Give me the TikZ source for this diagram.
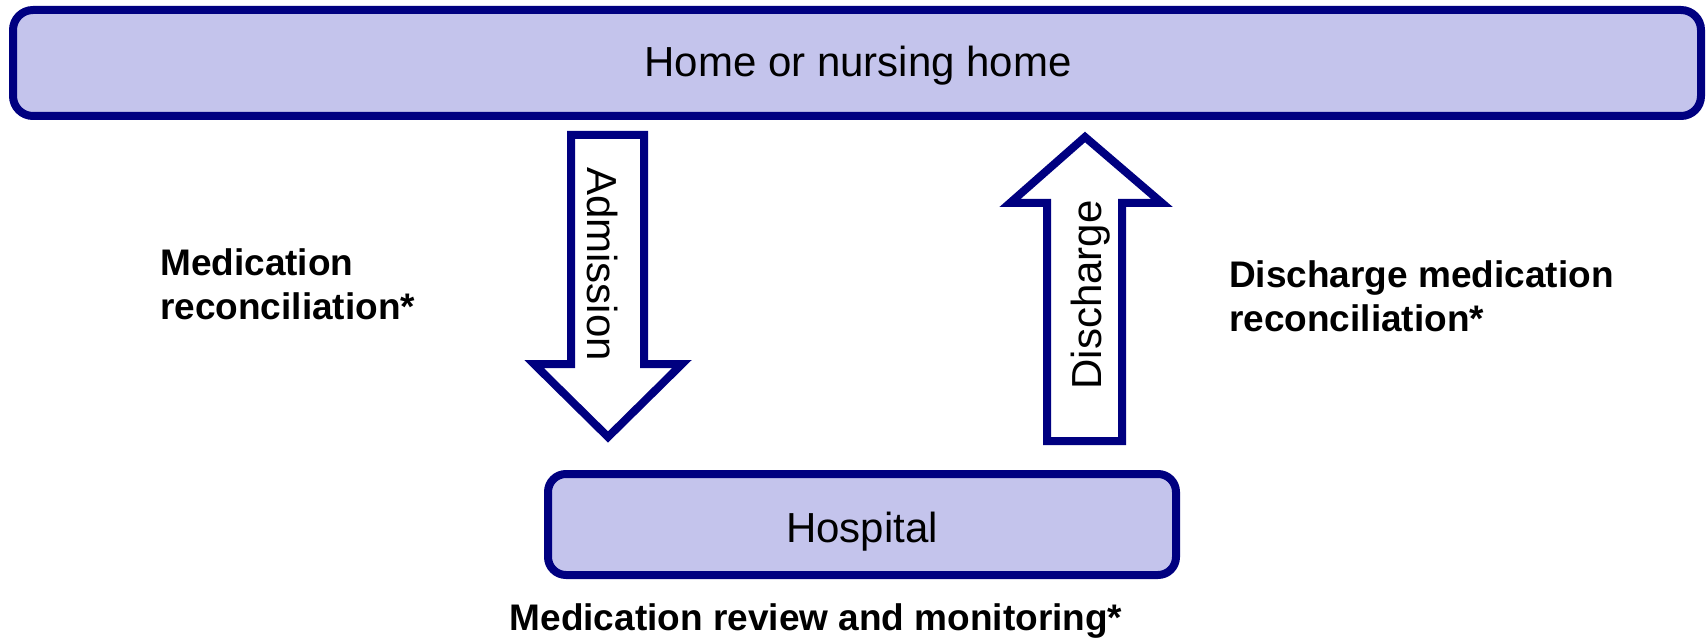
\documentclass[tikz,border=0pt]{standalone}
\usepackage{fontspec}
\setmainfont{Liberation Sans}
\definecolor{boxfill}{RGB}{196,196,236}
\definecolor{navy}{RGB}{0,0,128}
\begin{document}
\begin{tikzpicture}[x=1pt,y=-1pt,
  place/.style={draw=navy,fill=boxfill,line width=8pt,rounded corners=20pt},
  blockarrow/.style={draw=navy,fill=white,line width=8pt,line join=miter},
  plain/.style={inner sep=0pt,font=\fontsize{42}{50}\selectfont},
  label/.style={inner sep=0pt,align=left,font=\fontsize{37}{44}\selectfont\bfseries}]
\useasboundingbox (0,0) rectangle (1706,639);
% boxes
\draw[place] (13,10) rectangle (1701,116);
\node[plain] (home) at (858,66) {Home or nursing home};
\draw[place,rounded corners=18pt] (548,474) rectangle (1176,575);
\node[plain] (hospital) at (862,532) {Hospital};
% admission arrow
\coordinate (adtip) at (608,437);
\draw[blockarrow] (571,135) -- (644,135) -- (644,364) -- (682,364) -- (adtip) -- (534,364) -- (571,364) -- cycle;
\node[plain,rotate=-90] (admission) at (603,264) {Admission};
% discharge arrow
\coordinate (dctip) at (1085,137);
\draw[blockarrow] (1047,441) -- (1122,441) -- (1122,203) -- (1162,203) -- (dctip) -- (1010,203) -- (1047,203) -- cycle;
\node[plain,rotate=90] (discharge) at (1091,295) {Discharge};
% labels
\node[label,anchor=west] (medrec) at (160,284) {Medication\\reconciliation*};
\node[label,anchor=west] (dismed) at (1229,296) {Discharge medication\\reconciliation*};
\node[label] (review) at (816,621) {Medication review and monitoring*};
\end{tikzpicture}
\end{document}
